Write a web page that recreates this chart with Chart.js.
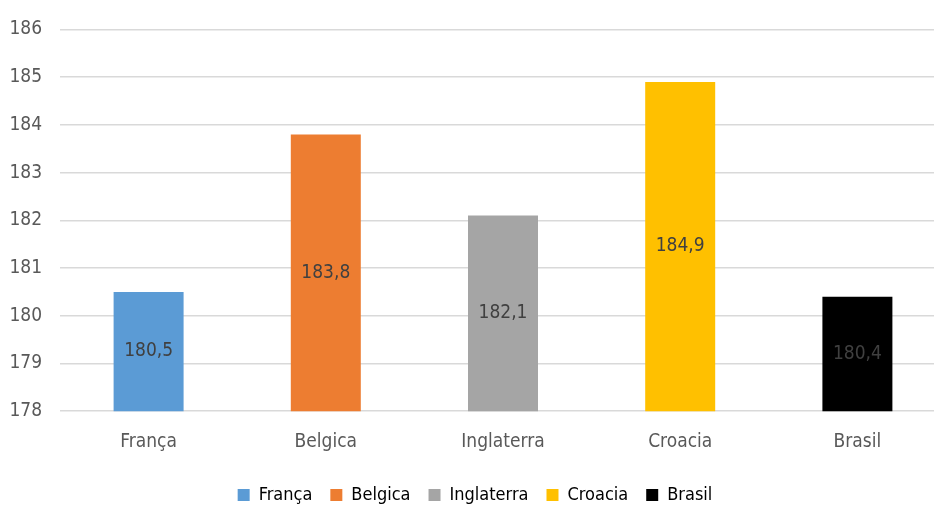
<!DOCTYPE html>
<html>
<head>
<meta charset="utf-8">
<script src="https://cdn.jsdelivr.net/npm/chart.js@4/dist/chart.umd.min.js"></script>
<style>
  html, body { margin: 0; padding: 0; background: #fff; overflow: hidden; }
  #wrap { width: 960px; height: 506px; }
</style>
</head>
<body>
<div id="wrap"><canvas id="chart"></canvas></div>
<script>
// dados do gráfico
const categories = ['França', 'Belgica', 'Inglaterra', 'Croacia', 'Brasil'];
const alturas = [180.5, 183.8, 182.1, 184.9, 180.4];
const cores = ['#5b9bd5', '#ed7d31', '#a5a5a5', '#ffc000', '#000000'];
const yMin = 178;
const yMax = 186;

const FONT = "'DejaVu Sans Condensed', 'Liberation Sans', sans-serif";

// rótulos dentro das barras
const barLabels = {
  id: 'barLabels',
  afterDatasetsDraw(chart) {
    const ctx = chart.ctx;
    const meta = chart.getDatasetMeta(0);
    const base = chart.scales.y.getPixelForValue(yMin);
    ctx.save();
    ctx.font = '19px ' + FONT;
    ctx.fillStyle = '#404040';
    ctx.textAlign = 'center';
    ctx.textBaseline = 'middle';
    meta.data.forEach((bar, i) => {
      const top = chart.scales.y.getPixelForValue(alturas[i]);
      const txt = alturas[i].toFixed(1).replace('.', ',');
      ctx.fillText(txt, bar.x, (top + base) / 2);
    });
    ctx.restore();
  }
};

new Chart(document.getElementById('chart'), {
  type: 'bar',
  data: {
    labels: categories,
    datasets: [{
      data: alturas,
      backgroundColor: cores,
      barPercentage: 0.79,
      categoryPercentage: 0.5
    }]
  },
  options: {
    responsive: true,
    maintainAspectRatio: false,
    animation: false,
    layout: { padding: { top: 6, left: 4, right: 14, bottom: -8 } },
    scales: {
      x: {
        afterFit: s => { s.height += 4; },
        grid: { display: false },
        border: { display: false },
        ticks: { color: '#595959', font: { family: FONT, size: 19 }, padding: 11 }
      },
      y: {
        min: yMin,
        max: yMax,
        afterFit: s => { s.width = 56; },
        grid: { color: '#d9d9d9', lineWidth: 1.5, drawTicks: false },
        border: { display: false },
        ticks: { stepSize: 1, color: '#595959', font: { family: FONT, size: 19 }, padding: 18 }
      }
    },
    plugins: {
      tooltip: { enabled: false },
      legend: {
        position: 'bottom',
        labels: {
          color: '#595959',
          font: { family: FONT, size: 18 },
          boxWidth: 12,
          boxHeight: 12,
          padding: 18,
          generateLabels: () => categories.map((c, i) => ({
            text: c,
            fillStyle: cores[i],
            strokeStyle: cores[i],
            lineWidth: 0,
            index: i
          }))
        }
      }
    }
  },
  plugins: [barLabels]
});
</script>
</body>
</html>
